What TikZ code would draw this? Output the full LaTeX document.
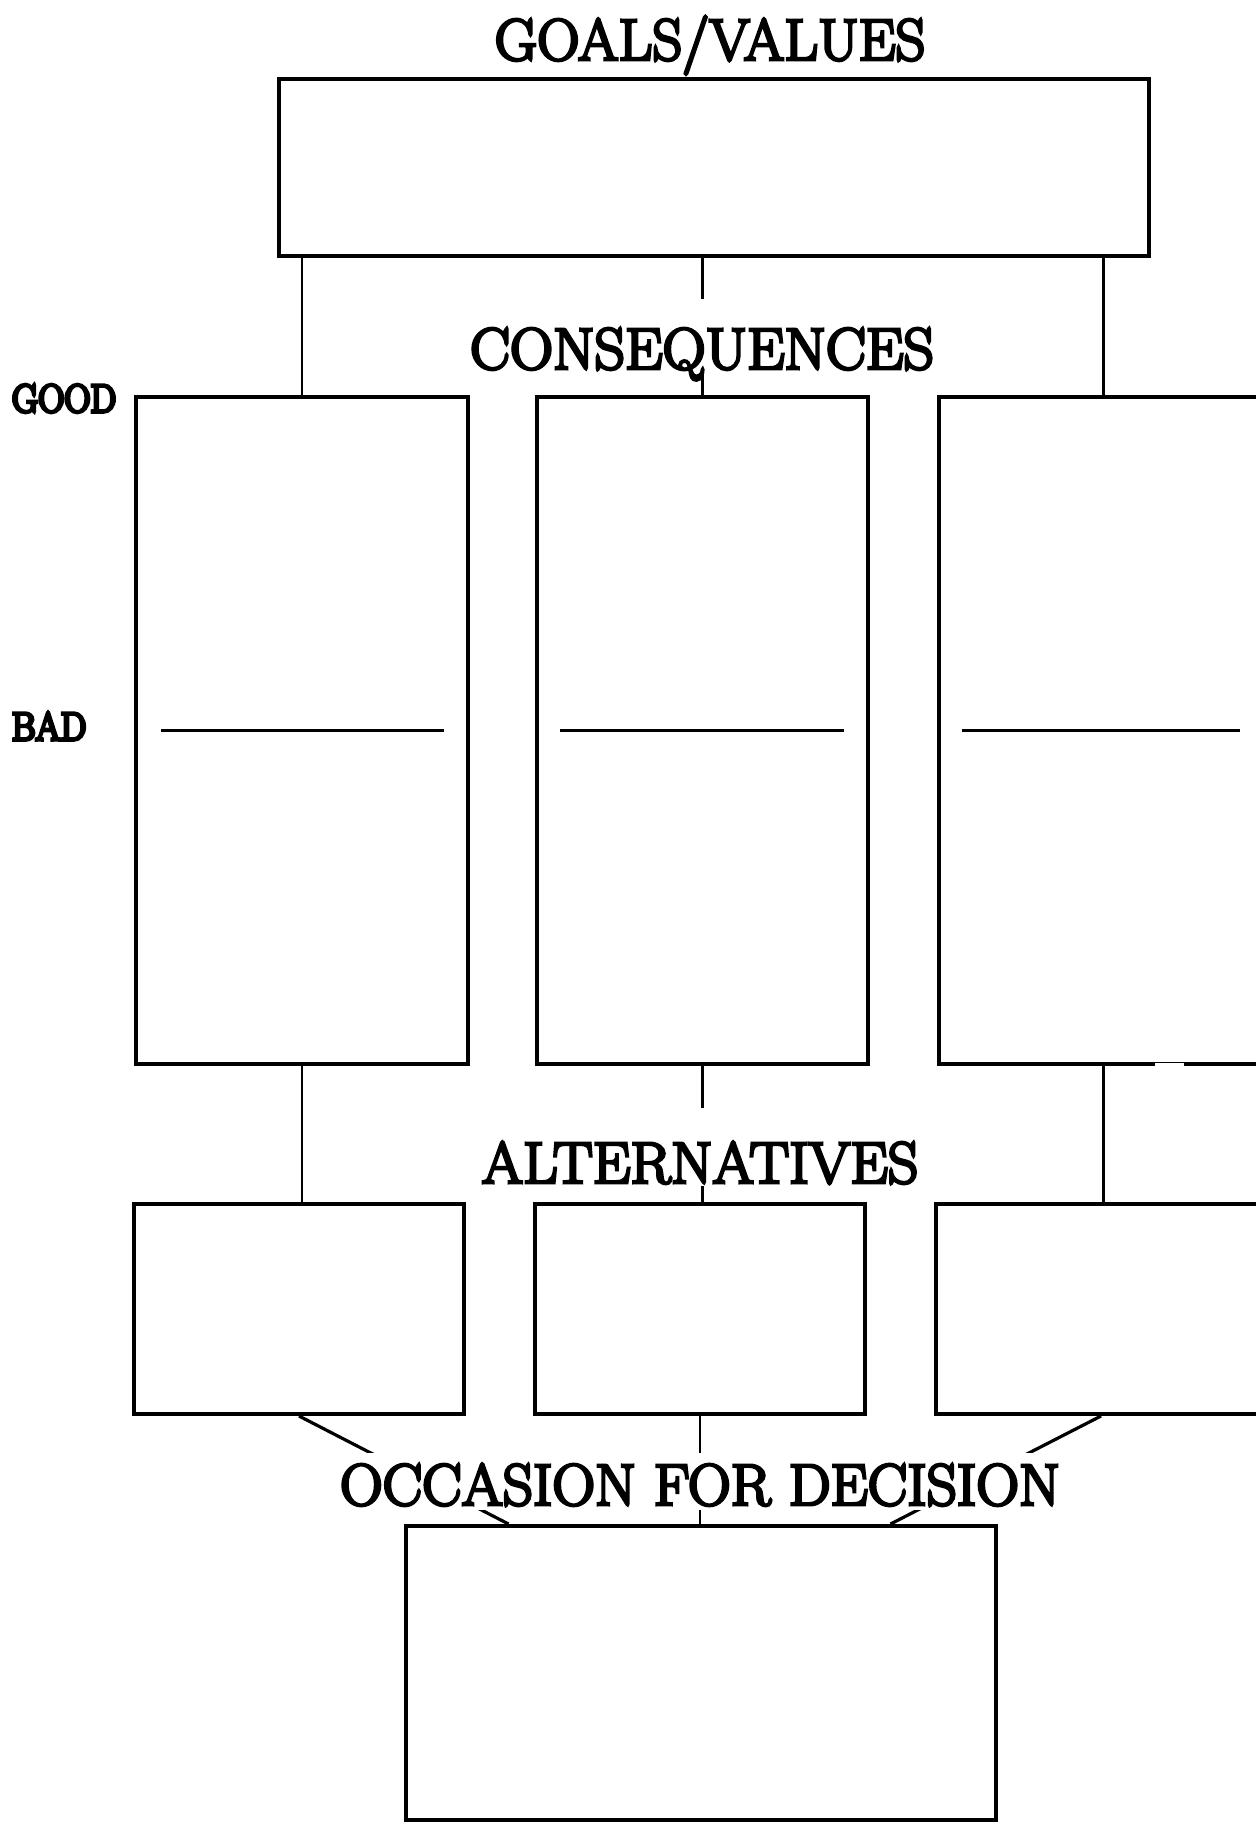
\documentclass[tikz,border=0pt]{standalone}
\usepackage{graphicx}
\usepackage{fontspec}
\newfontfamily\heavy{Latin Modern Roman}[FakeBold=5]
\newfontfamily\heavybf{Latin Modern Roman}[FakeBold=9]
\usetikzlibrary{fit,calc}
\begin{document}
\begin{tikzpicture}[x=0.5pt,y=-0.5pt,
  box/.style={draw, line width=2pt, inner sep=0pt, rectangle},
  conn/.style={line width=1.1pt},
  diag/.style={line width=1.6pt},
  badline/.style={line width=1.7pt},
  lbl/.style={fill=white, inner xsep=1pt, inner ysep=0pt, anchor=base,
              font=\heavy\fontsize{29.3}{30}\selectfont},
  side/.style={inner sep=0pt, anchor=base, font=\heavybf\fontsize{19.7}{20}\selectfont}]
\clip (0,0) rectangle (1256,1823);
\fill[white] (0,0) rectangle (1256,1823);

% boxes
\node[box, fit={(279,79) (1149,256)}] (g) {};
\node[box, fit={(136,397) (468,1064)}] (c1) {};
\node[box, fit={(537,397) (868,1064)}] (c2) {};
\node[box, fit={(939,397) (1268,1064)}] (c3) {};
\node[box, fit={(134,1204) (464,1414)}] (a1) {};
\node[box, fit={(535,1204) (865,1414)}] (a2) {};
\node[box, fit={(936,1204) (1266,1414)}] (a3) {};
\node[box, fit={(406,1526) (996,1820)}] (o) {};

% gap in the bottom edge of the third consequence box
\draw[white, line width=3pt] ($(c3.south west)+(218,0)$) -- ++(29,0);

% good/bad dividing lines
\draw[badline] ($(c1.west)+(27,0)$) -- ($(c1.east)+(-26,0)$);
\draw[badline] ($(c2.west)+(25,0)$) -- ($(c2.east)+(-26,0)$);
\draw[badline] ($(c3.west)+(25,0)$) -- ($(c3.west)+(303,0)$);

% connectors
\draw[conn] (g.south -| c1.north) -- (c1.north);
\draw[conn] (g.south -| c2.north) -- (c2.north);
\draw[conn] (g.south -| c3.north) -- (c3.north);
\draw[conn] (c1.south) -- (c1.south |- a1.north);
\draw[conn] (c2.south) -- (c2.south |- a2.north);
\draw[conn] (c3.south) -- (c3.south |- a3.north);
\draw[diag] (a1.south) -- ($(o.north west)!0.176!(o.north east)$);
\draw[conn] (a2.south) -- (a2.south |- o.north);
\draw[diag] (a3.south) -- ($(o.north west)!0.819!(o.north east)$);

% labels
\node[lbl, text height=20pt, text depth=0pt] (lg) at (710,60) {\scalebox{1.0}[1]{GOALS/VALUES}};
\node[lbl, text height=35pt, text depth=2.5pt] (lc) at (702,369) {\scalebox{1.02}[1]{CONSEQUENCES}};
\node[lbl, text height=37.5pt, text depth=1.5pt] (la) at (700,1183) {\scalebox{1.02}[1]{ALTERNATIVES}};
\node[lbl, text height=26pt, text depth=2.5pt] (lo) at (700,1505) {\scalebox{1.01}[1]{OCCASION FOR DECISION}};
\node[side] (good) at (64,412) {\scalebox{0.92}[1]{GOOD}};
\node[side] (bad) at (49,740) {\scalebox{0.92}[1]{BAD}};
\end{tikzpicture}
\end{document}
